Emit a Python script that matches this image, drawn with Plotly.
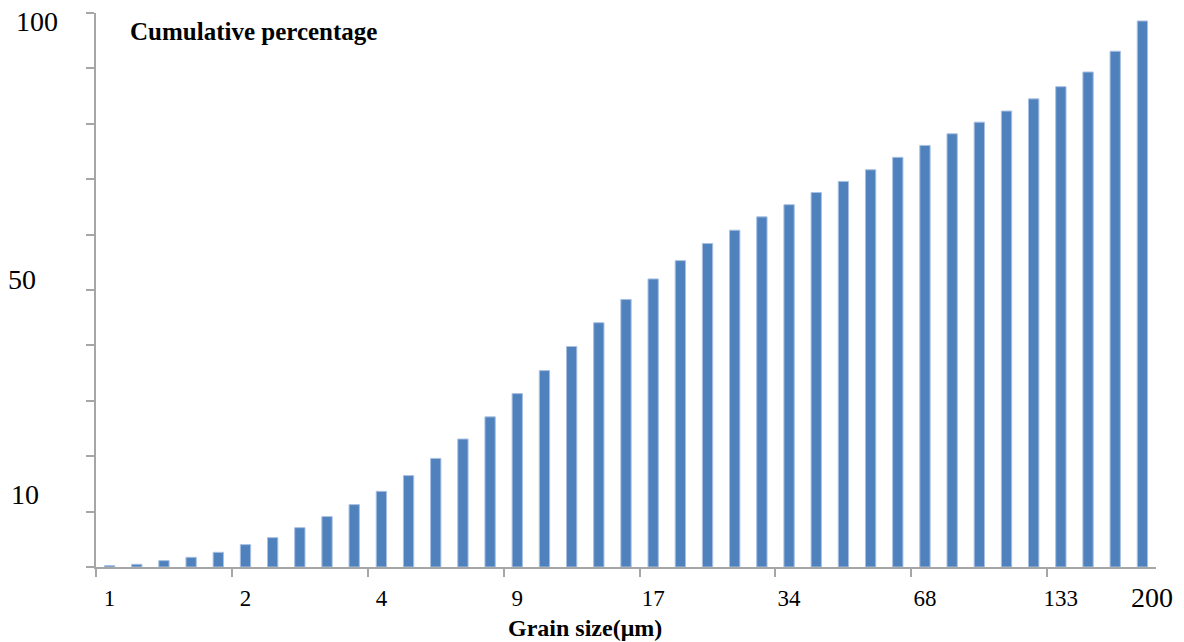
import plotly.graph_objects as go

# Data
cumulative = [0.25, 0.49, 1.15, 1.75, 2.65, 4.04, 5.3, 7.1, 9.1, 11.26,
              13.66, 16.5, 19.6, 23.1, 27.1, 31.3, 35.45, 39.8, 44.1, 48.3,
              52.0, 55.3, 58.4, 60.8, 63.2, 65.4, 67.6, 69.6, 71.7, 73.95,
              76.1, 78.2, 80.3, 82.3, 84.5, 86.7, 89.35, 93.1, 98.56]
bar_index = list(range(len(cumulative)))
x_tick_pos = [0, 5, 10, 15, 20, 25, 30, 35]
x_tick_text = ["1", "2", "4", "9", "17", "34", "68", "133"]
last_label = "200"
y_label_vals = [100, 50, 10]
y_label_text = ["100", "50", "10"]
y_label_shift = [-8, 11, 17]

W, H = 1184, 642
L, R, T, B = 96, 28, 13, 75
pw, ph = W - L - R, H - T - B

def px_x(px):
    return (px - L) / pw

def px_y(py):
    return (H - B - py) / ph

SERIF = "Liberation Serif, Times New Roman, serif"
AXIS_COL = "#a6a6a6"

fig = go.Figure()
fig.add_trace(go.Bar(
    x=bar_index, y=cumulative, width=0.38,
    marker=dict(color="#4F81BD", line=dict(color="#a9c1e2", width=1)),
    showlegend=False, hoverinfo="y"))

minor_vals = [-0.5 + 5 * k for k in range(8)]

fig.update_layout(
    width=W, height=H,
    margin=dict(l=L, r=R, t=T, b=B),
    plot_bgcolor="white", paper_bgcolor="white",
    font=dict(family=SERIF, color="black"),
    xaxis=dict(
        range=[-0.5, len(cumulative) - 0.5],
        tickmode="array", tickvals=x_tick_pos, ticktext=x_tick_text,
        ticks="", showgrid=False, zeroline=False,
        showline=True, linecolor=AXIS_COL, linewidth=1.5,
        tickfont=dict(family=SERIF, size=23, color="black"),
        ticklabelstandoff=10,
        minor=dict(tickmode="array", tickvals=minor_vals, ticks="outside",
                   ticklen=8, tickwidth=1.5, tickcolor=AXIS_COL,
                   showgrid=False),
    ),
    yaxis=dict(
        range=[0, 100], tickmode="linear", tick0=0, dtick=10,
        ticks="outside", ticklen=8, tickwidth=1.5, tickcolor=AXIS_COL,
        showticklabels=False, showgrid=False, zeroline=False,
        showline=True, linecolor=AXIS_COL, linewidth=1.5,
    ),
)

annotations = []
lefts = [14, 6, 9]
for v, t, s, lx in zip(y_label_vals, y_label_text, y_label_shift, lefts):
    annotations.append(dict(
        x=px_x(lx), xref="paper", y=v, yref="y", yshift=s,
        text=t, showarrow=False, xanchor="left", yanchor="middle",
        font=dict(family=SERIF, size=28, color="black")))

annotations.append(dict(
    x=px_x(1152), xref="paper", y=px_y(597), yref="paper",
    text=last_label, showarrow=False, xanchor="center", yanchor="middle",
    font=dict(family=SERIF, size=28, color="black")))

annotations.append(dict(
    x=px_x(128), xref="paper", y=px_y(31), yref="paper",
    text="<b>Cumulative percentage</b>", showarrow=False,
    xanchor="left", yanchor="middle",
    font=dict(family=SERIF, size=25, color="black")))

annotations.append(dict(
    x=px_x(585), xref="paper", y=px_y(628), yref="paper",
    text="<b>Grain size(μm)</b>", showarrow=False,
    xanchor="center", yanchor="middle",
    font=dict(family=SERIF, size=24, color="black")))

fig.update_layout(annotations=annotations)

fig.write_html("out.html", config={"displayModeBar": False},
               post_script="document.body.style.margin='0';")
